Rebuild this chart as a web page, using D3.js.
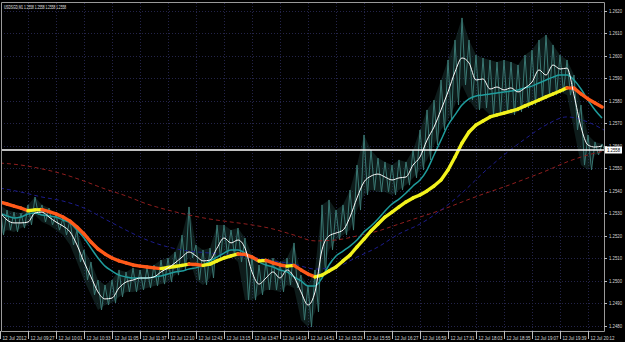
<!DOCTYPE html>
<html><head><meta charset="utf-8">
<script src="https://cdn.jsdelivr.net/npm/d3@7"></script>
<style>html,body{margin:0;padding:0;background:#000;overflow:hidden}</style>
</head><body><svg id="c" width="625" height="342"></svg>
<script>
// ---------- DATA ----------
const symbolTitle = "USDSGD,M1";
const lastOHLC = [1.2558, 1.2558, 1.2558, 1.2558];
const currentPrice = 1.2558;
const priceTicks = [1.2480,1.2490,1.2500,1.2510,1.2520,1.2530,1.2540,1.2550,1.2560,1.2570,1.2580,1.2590,1.2600,1.2610,1.2620];
const timeLabels = ["12 Jul 2012","12 Jul 09:27","12 Jul 10:01","12 Jul 10:33","12 Jul 11:05","12 Jul 11:37","12 Jul 12:10","12 Jul 12:43","12 Jul 13:15","12 Jul 13:47","12 Jul 14:19","12 Jul 14:51","12 Jul 15:23","12 Jul 15:55","12 Jul 16:27","12 Jul 16:59","12 Jul 17:31","12 Jul 18:03","12 Jul 18:35","12 Jul 19:07","12 Jul 19:39","12 Jul 20:12"];
const barsPerLabel = 32;
const totalBars = 690;
const stepFast = 8;   // bars between samples: price range, fast/mid/trend MAs
const stepSlow = 24;  // bars between samples: slow MAs

const barHigh = [1.25336,1.25313,1.25304,1.25300,1.25336,1.25371,1.25336,1.25322,1.25291,1.25278,
1.25269,1.25224,1.25136,1.25082,1.25002,1.24980,1.25002,1.25047,1.25038,1.25056,
1.25047,1.25056,1.25069,1.25091,1.25100,1.25127,1.25202,1.25327,1.25158,1.25136,
1.25144,1.25247,1.25247,1.25224,1.25233,1.25189,1.25113,1.25069,1.25091,1.25100,
1.25082,1.25100,1.25167,1.25024,1.24980,1.25047,1.25336,1.25358,1.25313,1.25336,
1.25402,1.25513,1.25647,1.25580,1.25544,1.25527,1.25513,1.25536,1.25527,1.25580,
1.25669,1.25758,1.25802,1.25891,1.25980,1.26069,1.26167,1.26069,1.26002,1.25989,
1.25980,1.25971,1.25980,1.25971,1.25958,1.26002,1.26024,1.26069,1.26091,1.26047,
1.26002,1.25980,1.25913,1.25780,1.25647,1.25616,1.25607];
const barLow = [1.25202,1.25224,1.25216,1.25233,1.25247,1.25291,1.25260,1.25247,1.25224,1.25202,
1.25158,1.25082,1.25002,1.24936,1.24869,1.24891,1.24900,1.24927,1.24949,1.24949,
1.24958,1.24967,1.24976,1.24984,1.24993,1.25024,1.25047,1.25100,1.25002,1.24980,
1.25011,1.25100,1.25113,1.25113,1.25082,1.24913,1.24913,1.24936,1.24958,1.24958,
1.24949,1.24980,1.24967,1.24824,1.24793,1.24860,1.25024,1.25136,1.25180,1.25202,
1.25224,1.25313,1.25380,1.25402,1.25393,1.25393,1.25380,1.25402,1.25424,1.25456,
1.25491,1.25536,1.25602,1.25669,1.25713,1.25780,1.25869,1.25802,1.25758,1.25767,
1.25736,1.25736,1.25749,1.25736,1.25749,1.25767,1.25780,1.25802,1.25824,1.25824,
1.25838,1.25824,1.25669,1.25513,1.25491,1.25558,1.25571];

const maFast = [1.25304,1.25269,1.25256,1.25256,1.25260,1.25300,1.25304,1.25282,1.25260,1.25242,
1.25216,1.25158,1.25082,1.25016,1.24949,1.24918,1.24922,1.24967,1.24993,1.25002,
1.25011,1.25011,1.25016,1.25038,1.25056,1.25078,1.25104,1.25127,1.25109,1.25087,
1.25091,1.25144,1.25189,1.25167,1.25180,1.25144,1.25038,1.24984,1.25011,1.25038,
1.25011,1.25047,1.25016,1.24949,1.24891,1.24949,1.25136,1.25198,1.25211,1.25224,
1.25282,1.25367,1.25438,1.25464,1.25473,1.25460,1.25447,1.25456,1.25460,1.25513,
1.25549,1.25624,1.25682,1.25758,1.25838,1.25927,1.25989,1.25967,1.25891,1.25896,
1.25851,1.25860,1.25847,1.25856,1.25838,1.25856,1.25882,1.25936,1.25913,1.25958,
1.25940,1.25944,1.25824,1.25682,1.25602,1.25593,1.25598];

const maMid = [1.25300,1.25287,1.25278,1.25282,1.25296,1.25300,1.25291,1.25287,1.25282,1.25269,
1.25256,1.25224,1.25189,1.25144,1.25100,1.25064,1.25042,1.25024,1.25016,1.25011,
1.25011,1.25011,1.25016,1.25020,1.25029,1.25038,1.25042,1.25051,1.25056,1.25069,
1.25087,1.25104,1.25122,1.25136,1.25136,1.25122,1.25100,1.25082,1.25069,1.25060,
1.25047,1.25038,1.25016,1.24998,1.24976,1.24976,1.25011,1.25069,1.25109,1.25131,
1.25153,1.25180,1.25216,1.25242,1.25273,1.25309,1.25340,1.25362,1.25389,1.25420,
1.25447,1.25491,1.25558,1.25624,1.25691,1.25736,1.25780,1.25807,1.25820,1.25824,
1.25829,1.25833,1.25838,1.25842,1.25847,1.25856,1.25864,1.25878,1.25891,1.25904,
1.25913,1.25913,1.25891,1.25851,1.25802,1.25758,1.25722];

const maTrend = [1.25349,1.25340,1.25331,1.25322,1.25310,1.25314,1.25315,1.25306,1.25296,1.25282,
1.25264,1.25238,1.25207,1.25171,1.25140,1.25118,1.25100,1.25087,1.25078,1.25069,
1.25064,1.25060,1.25056,1.25053,1.25058,1.25062,1.25067,1.25073,1.25071,1.25067,
1.25073,1.25087,1.25100,1.25109,1.25118,1.25116,1.25104,1.25087,1.25089,1.25078,
1.25069,1.25064,1.25067,1.25047,1.25029,1.25016,1.25024,1.25042,1.25060,1.25087,
1.25113,1.25149,1.25184,1.25220,1.25251,1.25282,1.25304,1.25327,1.25349,1.25367,
1.25380,1.25398,1.25420,1.25447,1.25491,1.25549,1.25611,1.25660,1.25691,1.25709,
1.25727,1.25736,1.25744,1.25753,1.25762,1.25776,1.25789,1.25802,1.25816,1.25829,
1.25842,1.25856,1.25855,1.25829,1.25807,1.25789,1.25771];

const maSlow = [1.25411,1.25393,1.25371,1.25353,1.25322,1.25273,1.25224,1.25180,1.25149,1.25131,
1.25122,1.25113,1.25104,1.25087,1.25073,1.25051,1.25060,1.25104,1.25149,1.25207,
1.25251,1.25313,1.25389,1.25478,1.25558,1.25629,1.25691,1.25727,1.25704,1.25656];

const maSlowest = [1.25522,1.25513,1.25496,1.25473,1.25442,1.25407,1.25376,1.25340,1.25313,1.25291,
1.25273,1.25260,1.25247,1.25229,1.25202,1.25176,1.25180,1.25198,1.25220,1.25251,
1.25282,1.25313,1.25349,1.25384,1.25416,1.25451,1.25487,1.25527,1.25558,1.25580];

// ---------- LAYOUT ----------
const W = 625, H = 342;
const plot = {left: 1, right: 604, top: 3, bottom: 331};
const svg = d3.select("#c");
svg.append("rect").attr("width", W).attr("height", H).attr("fill", "#000");

const x = d3.scaleLinear().domain([0, totalBars]).range([0, 603.75]);
const y = d3.scaleLinear().domain([1.2480, 1.2620]).range([325.5, 10.5]);

const defs = svg.append("defs");
defs.append("clipPath").attr("id", "clip").append("rect")
  .attr("x", plot.left).attr("y", plot.top)
  .attr("width", plot.right - plot.left).attr("height", plot.bottom - plot.top);

const fontFam = "'Liberation Sans', 'DejaVu Sans', sans-serif";

// grid
const grid = svg.append("g");
grid.selectAll("line.h").data(priceTicks).join("line")
  .attr("x1", plot.left).attr("x2", plot.right)
  .attr("y1", d => Math.round(y(d)) + 0.5).attr("y2", d => Math.round(y(d)) + 0.5)
  .attr("stroke", "#24244a").attr("stroke-dasharray", "1,2");
grid.selectAll("line.v").data(timeLabels.slice(1)).join("line")
  .attr("x1", (d, i) => Math.round(x((i + 1) * barsPerLabel)) + 0.5)
  .attr("x2", (d, i) => Math.round(x((i + 1) * barsPerLabel)) + 0.5)
  .attr("y1", plot.top).attr("y2", plot.bottom)
  .attr("stroke", "#24244a").attr("stroke-dasharray", "1,2");

const g = svg.append("g").attr("clip-path", "url(#clip)");

// price bars as a jagged high/low trace
const barPts = [];
barHigh.forEach((h, i) => {
  barPts.push([x(i * stepFast), y(h)]);
  barPts.push([x(i * stepFast + stepFast / 2), y(barLow[i])]);
});
const area = d3.area()
  .x((d, i) => x(i * stepFast))
  .y0((d, i) => y(barLow[i]))
  .y1(d => y(d))
  .curve(d3.curveLinear);
g.append("path").attr("d", area(barHigh)).attr("fill", "#27504d").attr("opacity", 0.35);
g.append("path").attr("d", d3.line()(barPts)).attr("fill", "none")
  .attr("stroke", "#3a7873").attr("stroke-width", 1);

// slow MAs (dashed)
const slowLine = d3.line().x((d, i) => x(i * stepSlow)).y(d => y(d)).curve(d3.curveMonotoneX);
g.append("path").attr("d", slowLine(maSlowest)).attr("fill", "none")
  .attr("stroke", "#8f1e1e").attr("stroke-width", 1).attr("stroke-dasharray", "4,3");
g.append("path").attr("d", slowLine(maSlow)).attr("fill", "none")
  .attr("stroke", "#1c1c8c").attr("stroke-width", 1).attr("stroke-dasharray", "4,3");

// mid MA (teal)
const fastLine = d3.line().x((d, i) => x(i * stepFast)).y(d => y(d)).curve(d3.curveMonotoneX);
g.append("path").attr("d", fastLine(maMid)).attr("fill", "none")
  .attr("stroke", "#1f9c9c").attr("stroke-width", 1.5);

// trend MA, coloured by direction
const trendG = g.append("g");
for (let i = 0; i < maTrend.length - 1; i++) {
  const up = maTrend[i + 1] >= maTrend[i];
  trendG.append("line")
    .attr("x1", x(i * stepFast)).attr("y1", y(maTrend[i]))
    .attr("x2", x((i + 1) * stepFast)).attr("y2", y(maTrend[i + 1]))
    .attr("stroke", up ? "#f2f21c" : "#ff5a1a")
    .attr("stroke-width", 3.4).attr("stroke-linecap", "round");
}

// fast MA (white)
g.append("path").attr("d", fastLine(maFast)).attr("fill", "none")
  .attr("stroke", "#ffffff").attr("stroke-width", 1);

// current price line
svg.append("line").attr("x1", plot.left).attr("x2", plot.right)
  .attr("y1", y(currentPrice)).attr("y2", y(currentPrice))
  .attr("stroke", "#ffffff").attr("stroke-width", 1.5);

// frame
svg.append("path")
  .attr("d", `M${plot.left + 0.5},${plot.bottom + 0.5}V${plot.top - 0.5}H${plot.right + 0.5}V${plot.bottom + 0.5}H${plot.left + 0.5}`)
  .attr("fill", "none").attr("stroke", "#9a9a9a").attr("stroke-width", 1);

// price axis
const pa = svg.append("g");
pa.selectAll("line").data(priceTicks).join("line")
  .attr("x1", plot.right).attr("x2", plot.right + 3)
  .attr("y1", d => Math.round(y(d)) + 0.5).attr("y2", d => Math.round(y(d)) + 0.5)
  .attr("stroke", "#bbbbbb");
pa.selectAll("text").data(priceTicks).join("text")
  .attr("x", plot.right + 5).attr("y", d => y(d) + 2)
  .attr("fill", "#d8d8d8").attr("font-family", fontFam).attr("font-size", 5.5)
  .attr("textLength", 13).attr("lengthAdjust", "spacingAndGlyphs")
  .text(d => d.toFixed(4));

// current price tag
const cp = svg.append("g");
cp.append("rect").attr("x", plot.right + 1).attr("y", y(currentPrice) - 3.5)
  .attr("width", 17).attr("height", 7).attr("fill", "#ffffff");
cp.append("text").attr("x", plot.right + 3).attr("y", y(currentPrice) + 2)
  .attr("fill", "#000").attr("font-family", fontFam).attr("font-size", 5.5)
  .attr("textLength", 13).attr("lengthAdjust", "spacingAndGlyphs")
  .text(currentPrice.toFixed(4));

// time axis
const ta = svg.append("g");
ta.selectAll("line").data(timeLabels).join("line")
  .attr("x1", (d, i) => Math.round(x(i * barsPerLabel)) + 0.5)
  .attr("x2", (d, i) => Math.round(x(i * barsPerLabel)) + 0.5)
  .attr("y1", plot.bottom).attr("y2", plot.bottom + 8)
  .attr("stroke", "#bbbbbb");
ta.selectAll("text").data(timeLabels).join("text")
  .attr("x", (d, i) => x(i * barsPerLabel) + 2.5).attr("y", 339.5)
  .attr("fill", "#d8d8d8").attr("font-family", fontFam).attr("font-size", 5.5)
  .attr("textLength", 24).attr("lengthAdjust", "spacingAndGlyphs")
  .text(d => d);

// header
svg.append("text").attr("x", 4).attr("y", 8.5)
  .attr("fill", "#e0e0e0").attr("font-family", fontFam).attr("font-size", 5.5)
  .attr("textLength", 62).attr("lengthAdjust", "spacingAndGlyphs")
  .text(symbolTitle + " " + lastOHLC.map(v => v.toFixed(4)).join(" "));
</script></body></html>
